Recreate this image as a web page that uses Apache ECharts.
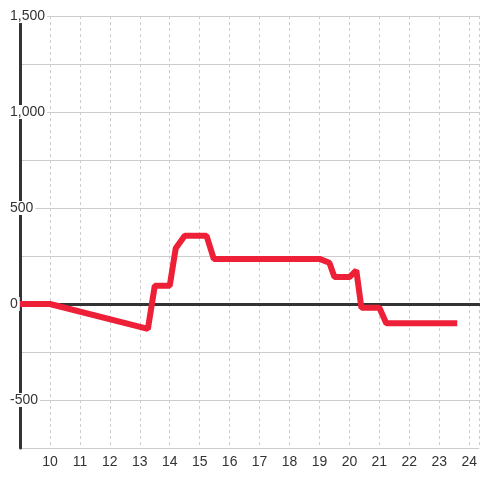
<!DOCTYPE html>
<html>
<head>
<meta charset="utf-8">
<script src="https://cdn.jsdelivr.net/npm/echarts@6/dist/echarts.min.js"></script>
<style>
  html, body { margin: 0; padding: 0; background: #fff; }
  #chart { width: 480px; height: 480px; }
</style>
</head>
<body>
<div id="chart"></div>
<script>
// time of day (hours) and value
var hours = [9, 10, 13.27, 13.5, 14.0, 14.2, 14.5, 15.23, 15.47, 19.0, 19.33, 19.5, 20.0, 20.23, 20.4, 21.0, 21.23, 23.6];
var values = [0, 0, -130, 95, 95, 290, 355, 355, 235, 235, 215, 140, 140, 175, -20, -20, -100, -100];

var points = hours.map(function (h, i) { return [h, values[i]]; });

var chart = echarts.init(document.getElementById('chart'));

var option = {
    animation: false,
    backgroundColor: '#fff',
    grid: { left: 20, right: 0, top: 16, bottom: 32 },
    xAxis: [
        {
            type: 'value',
            min: 9,
            max: 9 + 460 / 30,
            interval: 1,
            axisLine: { show: false, onZero: false },
            axisTick: { show: false },
            axisLabel: {
                color: '#333',
                fontSize: 14,
                fontFamily: 'Liberation Sans, Arial, sans-serif',
                margin: 7,
                showMinLabel: false,
                formatter: function (v) { return v === 9 ? '' : String(v); }
            },
            splitLine: { show: true, lineStyle: { color: '#ccc', width: 1, type: [3, 3] } }
        },
        {
            // zero line
            type: 'value',
            min: 9,
            max: 9 + 460 / 30,
            position: 'bottom',
            axisLine: { show: true, onZero: true, lineStyle: { color: '#333', width: 3 } },
            axisTick: { show: false },
            axisLabel: { show: false },
            splitLine: { show: false }
        }
    ],
    yAxis: {
        type: 'value',
        min: -750,
        max: 1500,
        interval: 250,
        axisLine: { show: true, lineStyle: { color: '#333', width: 3 } },
        axisTick: { show: false },
        axisLabel: {
            align: 'left',
            margin: 10,
            formatter: function (v) {
                if (v % 500 !== 0) return '';
                return '{a|' + v.toLocaleString('en-US') + '}';
            },
            rich: {
                a: {
                    color: '#333',
                    fontSize: 14,
                    fontFamily: 'Liberation Sans, Arial, sans-serif',
                    backgroundColor: '#fff',
                    padding: [0, 2, 0, 0]
                }
            }
        },
        splitLine: { show: true, lineStyle: { color: '#ccc', width: 1 } }
    },
    series: [
        {
            type: 'line',
            data: points,
            showSymbol: false,
            symbol: 'none',
            lineStyle: { color: '#ee2038', width: 6 }
        }
    ]
};

chart.setOption(option);
</script>
</body>
</html>
